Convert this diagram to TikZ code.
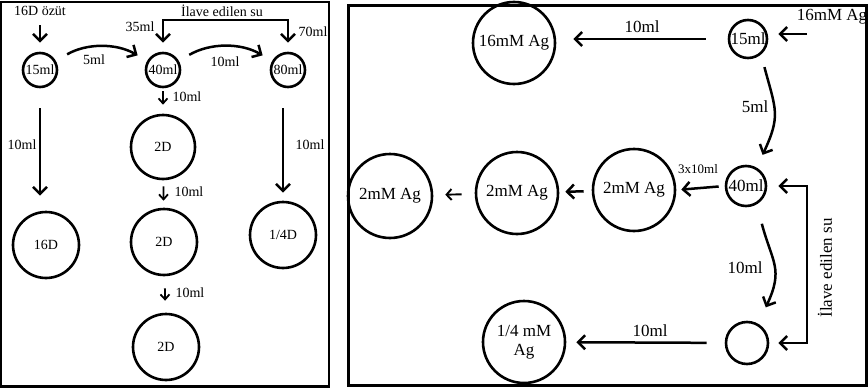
\documentclass[tikz,border=0pt]{standalone}
\usepackage{fontspec}
\setmainfont{Liberation Serif}
\usetikzlibrary{arrows.meta}
\tikzset{
  kap/.style={circle, draw, line width=2.6pt, inner sep=0pt, minimum size=#1},
  ucb/.tip={Straight Barb[length=7pt,width=14pt]},
  ok/.style={-{ucb}, line width=2.5pt},
  okm/.style={-{Straight Barb[length=5pt,width=11pt]}, line width=1.9pt},
  okk/.style={-{Straight Barb[length=5pt,width=9pt]}, line width=1.8pt},
  sol/.style={font=\fontsize{14}{16}\selectfont},
  sag/.style={font=\fontsize{17}{19}\selectfont}
}
\begin{document}
\begin{tikzpicture}[x=1pt,y=-1pt]
		%%%%% START %%%%%
		\useasboundingbox (0,0) rectangle (868,388);
		\draw[line width=2.4pt] (1.2,1.7) rectangle (329,386.3);
		\draw[line width=3pt] (348.5,5) rectangle (866,385.5);
		
		% left panel
		\begin{scope}[sol]
		\node (ozut) at (40,11) {16D özüt};
		\node[kap=34pt] (c15) at (40,70) {15ml};
		\node[kap=34pt] (c40) at (163,70) {40ml};
		\node[kap=34pt] (c80) at (288,70) {80ml};
		\node (ilave) at (222,11) {İlave edilen su};
		\node[kap=64pt] (d2a) at (163,147) {2D};
		\node[kap=66pt] (d2b) at (164,242) {2D};
		\node[kap=66pt] (d2c) at (166,347) {2D};
		\node[kap=66pt] (d16) at (46,245) {16D};
		\node[kap=66pt] (d14) at (283,235) {1/4D};
		
		\coordinate (suL) at (163,20);
		\coordinate (suR) at (288,20);
		\draw[ok, shorten <=6pt, shorten >=9pt] (ozut) -- (c15);
		\draw[{ucb}-{ucb}, line width=2.5pt, shorten <=9pt, shorten >=9pt] (c40) -- (suL) -- (suR) -- (c80);
		\node (ml35) at (140,27) {35ml};
		\node (ml70) at (313,32) {70ml};
		
		\draw[ok, shorten <=13pt, shorten >=11pt] (c15) to[out=30,in=150] (c40);
		\node (ml5) at (94,60) {5ml};
		\draw[ok, shorten <=12pt, shorten >=11pt] (c40) to[out=30,in=150] (c80);
		\node (ml10a) at (225,62) {10ml};
		
		\draw[okk, shorten <=3pt, shorten >=9pt] (c40) -- (d2a);
		\node[anchor=west] (ml10b) at (169,97) {10ml};
		\draw[okk, shorten <=6pt, shorten >=7pt] (d2a) -- (d2b);
		\node[anchor=west] (ml10c) at (171,192) {10ml};
		\draw[okk, shorten <=12pt, shorten >=12pt] (d2b) -- (d2c);
		\node[anchor=west] (ml10d) at (172,293) {10ml};
		
		\draw[ok, shorten <=20pt, shorten >=15pt] (c15) -- (c15 |- d16.north);
		\node (ml10e) at (22,145) {10ml};
		\draw[ok, shorten <=20pt, shorten >=8pt] (c80.south -| d14) -- (d14);
		\node (ml10f) at (310,145) {10ml};
		\end{scope}
		
		% right panel
		\begin{scope}[sag]
		\node[kap=82pt] (ag16) at (514,43) {16mM Ag};
		\node[kap=38pt] (r15) at (748,39) {15ml};
		\node[kap=40pt] (r40) at (746,186) {40ml};
		\node[kap=82pt] (ag2c) at (634,190) {2mM Ag};
		\node[kap=82pt] (ag2b) at (517,193) {2mM Ag};
		\node[kap=84pt] (ag2a) at (390,196) {2mM Ag};
		\node[kap=42pt] (bos) at (747,343) {};
		\node[kap=82pt, align=center] (ag14) at (524,342) {1/4 mM\\Ag};
		
		\node (agust) at (832,17) {16mM Ag};
		\coordinate (agin) at (807,34);
		\draw[ok, shorten >=10pt] (agin) -- (agin -| r15.east);
		
		\draw[ok, shorten <=22pt, shorten >=17pt] (r15.west) -- (r15.west -| ag16.east);
		\node (ml10g) at (642,27) {10ml};
		
		\draw[ok, shorten <=13pt, shorten >=14pt] (r15.-50) to[out=-75,in=65,looseness=1.3] (r40.60);
		\node (ml5r) at (755,107) {5ml};
		
		\draw[ok, shorten <=6pt, shorten >=5pt] (r40.west) -- (ag2c.east);
		\node[font=\fontsize{13}{15}\selectfont] (ml3x) at (698,169) {3x10ml};
		\draw[ok, shorten <=8pt, shorten >=6pt] (ag2c) -- (ag2b);
		\draw[okm, shorten <=13pt, shorten >=12pt] (ag2b) -- (ag2a);
		
		\coordinate (suT) at (807,186);
		\draw[{ucb}-{ucb}, line width=2.5pt, shorten <=11pt, shorten >=9pt] (r40) -- (suT) |- (bos);
		\node[rotate=90] (ilaver) at (825,268) {İlave edilen su};
		
		\draw[ok, shorten <=20pt, shorten >=18pt] (r40.-60) to[out=-75,in=65,looseness=1.3] (bos.60);
		\node (ml10h) at (745,268) {10ml};
		
		\draw[ok, shorten <=18pt, shorten >=10pt] (bos) -- (ag14);
		\node (ml10i) at (650,331) {10ml};
		\end{scope}
		%%%%% END %%%%%
\end{tikzpicture}
\end{document}
